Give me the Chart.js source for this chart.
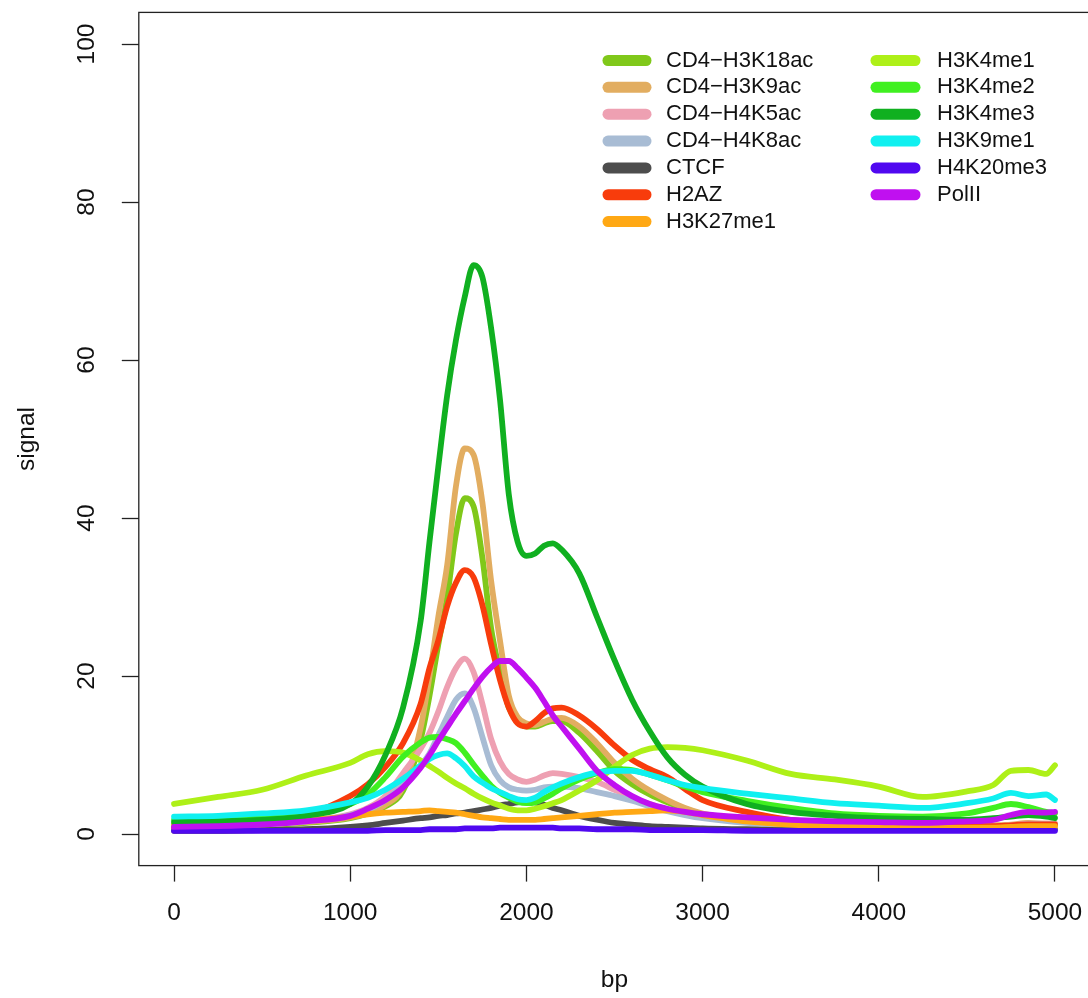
<!DOCTYPE html>
<html>
<head>
<meta charset="utf-8">
<title>signal vs bp</title>
<script src="https://cdn.jsdelivr.net/npm/chart.js@4.4.0/dist/chart.umd.min.js"></script>
<style>
  html, body { margin: 0; padding: 0; background: #fff; overflow: hidden; }
  canvas { display: block; }
</style>
</head>
<body>
<canvas id="signal" width="1100" height="998"></canvas>
<script>
// positions along the window, in bp
const bp = [0, 250, 500, 750, 1000, 1100, 1200, 1300, 1400, 1450, 1500, 1550, 1600, 1650, 1700, 1750, 1800, 1850, 1900, 1950,
            2000, 2050, 2100, 2150, 2200, 2300, 2400, 2500, 2600, 2700, 2800, 2900, 3000, 3250, 3500, 3750, 4000, 4250, 4500,
            4650, 4750, 4850, 4950, 5000];

const xTicks = [0, 1000, 2000, 3000, 4000, 5000];
const yTicks = [0, 20, 40, 60, 80, 100];

const marks = ['CD4\u2212H3K18ac', 'CD4\u2212H3K9ac', 'CD4\u2212H4K5ac', 'CD4\u2212H4K8ac', 'CTCF', 'H2AZ', 'H3K27me1',
               'H3K4me1', 'H3K4me2', 'H3K4me3', 'H3K9me1', 'H4K20me3', 'PolII'];

const colours = ['#80c81a', '#e2ad60', '#eea0b2', '#a8bcd4', '#4d4d4d', '#f83c0c', '#ffa814',
                 '#aef018', '#40f020', '#10b020', '#10f0f0', '#5008f0', '#c010f0'];

const cd4H3K18ac = [1.0, 1.0, 1.1, 1.4, 2.0, 2.6, 3.5, 5.5, 12.0, 17.5, 24.0, 30.0, 38.0, 42.5, 41.5, 35.0, 26.0, 20.5, 16.0, 14.3,
                    13.6, 13.6, 14.0, 14.3, 14.3, 12.8, 10.5, 8.0, 6.3, 5.0, 4.0, 3.2, 2.5, 1.7, 1.3, 1.1, 1.0, 0.9, 0.9, 1.0, 1.1, 1.3, 1.2, 1.2];
const cd4H3K9ac  = [1.0, 1.0, 1.2, 1.5, 2.1, 2.7, 3.7, 6.0, 13.5, 20.0, 27.5, 34.0, 44.0, 48.8, 48.0, 42.0, 32.0, 24.5, 17.5, 14.8,
                    14.0, 13.8, 14.2, 14.6, 14.7, 13.6, 11.5, 9.0, 7.0, 5.5, 4.3, 3.3, 2.6, 1.8, 1.4, 1.2, 1.1, 1.0, 1.0, 1.1, 1.2, 1.4, 1.3, 1.3];
const cd4H4K5ac  = [0.9, 1.0, 1.2, 1.6, 2.5, 3.3, 4.8, 7.7, 10.8, 12.8, 15.5, 18.6, 21.0, 22.2, 20.5, 16.5, 12.0, 9.2, 7.6, 6.9,
                    6.6, 6.9, 7.4, 7.7, 7.6, 7.2, 6.6, 5.6, 4.6, 3.8, 3.1, 2.6, 2.2, 1.5, 1.2, 1.0, 0.9, 0.9, 0.9, 1.0, 1.1, 1.3, 1.3, 1.3];
const cd4H4K8ac  = [0.9, 1.0, 1.2, 1.6, 2.4, 3.1, 4.3, 6.3, 8.7, 10.2, 12.5, 14.8, 17.0, 17.8, 16.0, 12.3, 8.7, 6.8, 5.9, 5.6,
                    5.5, 5.6, 5.9, 6.0, 6.0, 5.8, 5.3, 4.8, 4.2, 3.5, 2.9, 2.4, 2.0, 1.4, 1.1, 0.9, 0.8, 0.8, 0.8, 0.9, 1.0, 1.2, 1.2, 1.2];
const ctcf       = [0.4, 0.4, 0.5, 0.6, 0.9, 1.1, 1.4, 1.7, 2.0, 2.1, 2.3, 2.4, 2.6, 2.7, 2.9, 3.1, 3.3, 3.6, 3.8, 4.0,
                    4.1, 4.0, 3.7, 3.3, 3.0, 2.3, 1.8, 1.4, 1.2, 1.0, 0.9, 0.8, 0.7, 0.6, 0.5, 0.5, 0.5, 0.5, 0.5, 0.5, 0.6, 0.6, 0.6, 0.6];
const h2az       = [0.8, 0.9, 1.3, 2.4, 4.8, 6.3, 8.5, 11.5, 16.5, 21.0, 24.5, 28.8, 31.8, 33.4, 32.5, 29.0, 24.0, 19.5, 16.0, 14.0,
                    13.6, 14.3, 15.3, 15.9, 16.0, 15.0, 13.3, 11.2, 9.4, 8.2, 7.2, 5.7, 4.3, 2.8, 1.8, 1.4, 1.2, 1.1, 1.0, 1.0, 1.1, 1.2, 1.2, 1.2];
const h3k27me1   = [1.2, 1.3, 1.5, 1.8, 2.2, 2.5, 2.7, 2.8, 2.9, 3.0, 2.9, 2.8, 2.7, 2.5, 2.3, 2.1, 2.0, 1.9, 1.8, 1.8,
                    1.8, 1.8, 1.9, 2.0, 2.1, 2.3, 2.5, 2.7, 2.8, 2.9, 3.0, 2.8, 2.4, 1.6, 1.2, 1.0, 0.9, 0.8, 0.8, 0.8, 0.9, 1.0, 1.0, 1.0];
const h3k4me1    = [3.8, 4.7, 5.6, 7.4, 9.0, 10.1, 10.5, 10.3, 9.3, 8.6, 7.9, 7.1, 6.4, 5.8, 5.1, 4.5, 4.0, 3.6, 3.2, 3.0,
                    3.0, 3.2, 3.5, 3.9, 4.3, 5.5, 6.8, 8.5, 10.0, 10.8, 11.0, 10.9, 10.6, 9.3, 7.6, 6.9, 6.0, 4.7, 5.4, 6.2, 8.0, 8.1, 7.6, 8.7];
const h3k4me2    = [1.8, 1.9, 2.1, 2.6, 3.8, 5.0, 7.2, 9.8, 11.6, 12.2, 12.3, 12.0, 11.5, 10.3, 8.8, 7.4, 6.1, 5.2, 4.6, 4.1,
                    3.9, 4.0, 4.5, 5.1, 5.8, 6.9, 7.7, 8.2, 8.1, 7.5, 6.8, 6.0, 5.3, 4.2, 3.3, 2.6, 2.3, 2.2, 2.6, 3.3, 3.8, 3.4, 2.8, 2.6];
const h3k4me3    = [1.5, 1.6, 1.8, 2.3, 3.8, 6.0, 10.0, 16.0, 27.0, 37.0, 46.5, 55.5, 62.5, 68.0, 72.0, 70.5, 64.0, 55.0, 43.0, 37.0,
                    35.2, 35.5, 36.5, 36.8, 36.0, 33.0, 27.5, 22.0, 17.0, 13.0, 9.7, 7.5, 6.0, 3.8, 2.8, 2.3, 2.0, 1.9, 1.8, 2.0, 2.2, 2.4, 2.2, 2.0];
const h3k9me1    = [2.2, 2.3, 2.6, 3.0, 4.0, 4.6, 5.6, 7.0, 8.7, 9.5, 10.0, 10.2, 9.6, 8.6, 7.3, 6.5, 5.8, 5.3, 4.8, 4.4,
                    4.3, 4.6, 5.3, 5.9, 6.4, 7.2, 7.8, 8.0, 8.0, 7.5, 6.8, 6.2, 5.8, 5.1, 4.5, 3.9, 3.6, 3.3, 3.9, 4.5, 5.2, 4.8, 5.0, 4.3];
const h4k20me3   = [0.4, 0.4, 0.4, 0.4, 0.4, 0.4, 0.5, 0.5, 0.5, 0.6, 0.6, 0.6, 0.6, 0.7, 0.7, 0.7, 0.7, 0.8, 0.8, 0.8,
                    0.8, 0.8, 0.8, 0.8, 0.7, 0.7, 0.6, 0.6, 0.6, 0.5, 0.5, 0.5, 0.5, 0.4, 0.4, 0.4, 0.4, 0.4, 0.4, 0.4, 0.4, 0.4, 0.4, 0.4];
const polII      = [0.9, 1.0, 1.2, 1.6, 2.3, 3.2, 4.3, 5.9, 8.4, 10.0, 11.8, 13.5, 15.2, 16.8, 18.4, 19.9, 21.1, 21.9, 21.9, 21.0,
                    19.8, 18.5, 16.8, 15.0, 13.6, 10.8, 8.0, 6.2, 4.8, 3.8, 3.2, 2.8, 2.5, 2.1, 1.8, 1.6, 1.5, 1.4, 1.6, 1.8, 2.4, 2.8, 2.7, 2.8];

const series = [cd4H3K18ac, cd4H3K9ac, cd4H4K5ac, cd4H4K8ac, ctcf, h2az, h3k27me1,
                h3k4me1, h3k4me2, h3k4me3, h3k9me1, h4k20me3, polII];

const FONT = '"Liberation Sans", Arial, Helvetica, sans-serif';
const INK = '#111';

// plain box round the plot region, like R's box()
const frame = {
    id: 'frame',
    afterDraw(chart) {
        const a = chart.chartArea, ctx = chart.ctx;
        ctx.save();
        ctx.strokeStyle = '#222';
        ctx.lineWidth = 1.3;
        ctx.strokeRect(a.left, a.top, a.right - a.left, a.bottom - a.top);
        ctx.restore();
    }
};

// two column legend inside the plot, no box (legend(..., ncol = 2, bty = "n"))
const legendCols = {
    id: 'legendCols',
    afterDatasetsDraw(chart, args, o) {
        const ctx = chart.ctx;
        ctx.save();
        ctx.font = o.size + 'px ' + FONT;
        ctx.textBaseline = 'middle';
        ctx.textAlign = 'left';
        ctx.lineCap = 'round';
        ctx.lineWidth = o.swatch;
        chart.data.datasets.forEach((ds, i) => {
            const col = o.cols[Math.floor(i / o.perCol)];
            const y = o.top + (i % o.perCol) * o.step;
            ctx.strokeStyle = ds.borderColor;
            ctx.beginPath();
            ctx.moveTo(col.x0, y);
            ctx.lineTo(col.x1, y);
            ctx.stroke();
            ctx.fillStyle = INK;
            ctx.fillText(ds.label, col.text, y);
        });
        ctx.restore();
    }
};

document.addEventListener('DOMContentLoaded', function () {
    const n = marks.length;
    new Chart('signal', {
        type: 'line',
        data: {
            labels: bp,
            datasets: marks.map((m, i) => ({
                label: m,
                data: series[i],
                borderColor: colours[i],
                backgroundColor: colours[i],
                borderWidth: 5.8,
                borderCapStyle: 'round',
                borderJoinStyle: 'round',
                pointRadius: 0,
                fill: false,
                cubicInterpolationMode: 'monotone',
                order: n - i   // later series sit on top, as in R
            }))
        },
        options: {
            responsive: false,
            animation: false,
            devicePixelRatio: 1,
            layout: { padding: { top: 12.4, right: 9.8, bottom: 0, left: 0 } },
            plugins: {
                legend: { display: false },
                tooltip: { enabled: false },
                legendCols: {
                    size: 22,
                    swatch: 11,
                    top: 60.5,
                    step: 26.85,
                    perCol: 7,
                    cols: [{ x0: 608, x1: 646, text: 666 }, { x0: 876, x1: 915, text: 937 }]
                }
            },
            scales: {
                x: {
                    type: 'linear',
                    bounds: 'data',
                    min: -200,
                    max: 5200,
                    afterBuildTicks: s => { s.ticks = xTicks.map(v => ({ value: v })); },
                    afterFit: s => { s.height = 132.4; s.paddingLeft = 0; s.paddingRight = 0; },
                    border: { display: false },
                    grid: { drawOnChartArea: false, drawTicks: true, tickLength: 16, tickColor: '#222', tickWidth: 1.3 },
                    ticks: {
                        autoSkip: false, maxRotation: 0, padding: 17, color: INK,
                        font: { family: FONT, size: 24.5 },
                        callback: v => String(v)
                    },
                    title: { display: true, text: 'bp', color: INK, font: { family: FONT, size: 24.5 }, padding: { top: 0, bottom: 3 } }
                },
                y: {
                    bounds: 'data',
                    min: -4,
                    max: 104,
                    afterBuildTicks: s => { s.ticks = yTicks.map(v => ({ value: v })); },
                    afterFit: s => { s.width = 138.8; s.paddingTop = 0; s.paddingBottom = 0; },
                    border: { display: false },
                    grid: { drawOnChartArea: false, drawTicks: true, tickLength: 17, tickColor: '#222', tickWidth: 1.3 },
                    ticks: {
                        autoSkip: false, minRotation: 90, maxRotation: 90, crossAlign: 'center', padding: 14, color: INK,
                        font: { family: FONT, size: 24.5 },
                        callback: v => String(v)
                    },
                    title: { display: true, text: 'signal', color: INK, font: { family: FONT, size: 24.5 }, padding: { top: 13, bottom: 0 } }
                }
            }
        },
        plugins: [frame, legendCols]
    });
});
</script>
</body>
</html>
